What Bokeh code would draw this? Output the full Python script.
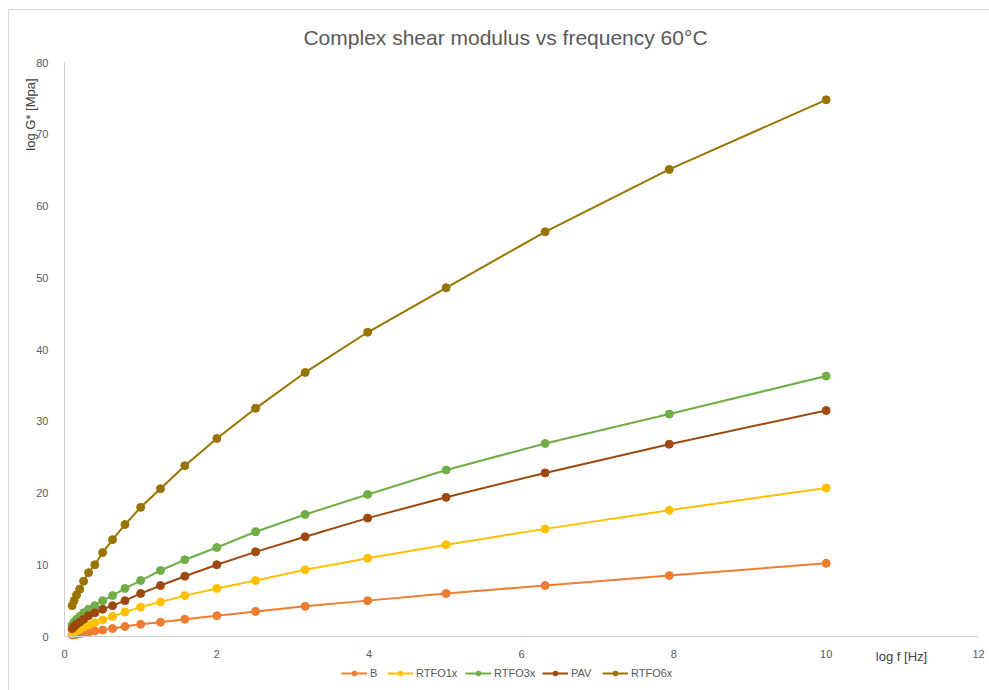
import math
from bokeh.plotting import figure
from bokeh.models import Range1d, Label, Legend, FixedTicker
from bokeh.embed import file_html
from bokeh.resources import INLINE

freq = [0.1, 0.126, 0.158, 0.2, 0.251, 0.316, 0.398, 0.501, 0.631, 0.794,
        1.0, 1.26, 1.58, 2.0, 2.51, 3.16, 3.98, 5.01, 6.31, 7.94, 10.0]

B = [0.2, 0.25, 0.3, 0.4, 0.5, 0.6, 0.75, 0.9, 1.1, 1.4,
     1.7, 2.0, 2.4, 2.9, 3.5, 4.2, 5.0, 6.0, 7.1, 8.5, 10.2]
RTFO1x = [0.4, 0.6, 0.8, 1.0, 1.3, 1.6, 1.9, 2.3, 2.8, 3.4,
          4.1, 4.8, 5.7, 6.7, 7.8, 9.3, 10.9, 12.8, 15.0, 17.6, 20.7]
RTFO3x = [1.6, 2.0, 2.4, 2.8, 3.3, 3.8, 4.3, 5.0, 5.7, 6.7,
          7.8, 9.2, 10.7, 12.4, 14.6, 17.0, 19.8, 23.2, 26.9, 31.0, 36.3]
PAV = [1.1, 1.4, 1.7, 2.0, 2.4, 2.9, 3.3, 3.8, 4.3, 5.0,
       6.0, 7.1, 8.4, 10.0, 11.8, 13.9, 16.5, 19.4, 22.8, 26.8, 31.5]
RTFO6x = [4.3, 5.0, 5.8, 6.6, 7.7, 8.9, 10.0, 11.7, 13.5, 15.6,
          18.0, 20.6, 23.8, 27.6, 31.8, 36.8, 42.4, 48.6, 56.4, 65.1, 74.8]

series_names = ["B", "RTFO1x", "RTFO3x", "PAV", "RTFO6x"]
series_values = [B, RTFO1x, RTFO3x, PAV, RTFO6x]
colors = ["#ED7D31", "#FFC000", "#70AD47", "#9E480E", "#997300"]

x_ticks = [0, 2, 4, 6, 8, 10, 12]
y_ticks = [0, 10, 20, 30, 40, 50, 60, 70, 80]

title_text = "Complex shear modulus vs frequency 60°C"
x_label = "log f [Hz]"
y_label = "log G* [Mpa]"

FONT = "Liberation Sans"

# pixel geometry of the plotting area inside the 989x690 canvas
W, H = 989, 690
X0PX, X12PX = 64, 978      # x = 0 and x = 12
Y0PX, Y80PX = 636, 62      # y = 0 and y = 80 (from top)
sx = (X12PX - X0PX) / 12.0
sy = (Y0PX - Y80PX) / 80.0

# left edge (px) of each legend entry
legend_x = [341, 387, 465, 542, 602]

p = figure(width=W, height=H, output_backend="svg", toolbar_location=None,
           x_range=Range1d(-X0PX / sx, (W - X0PX) / sx),
           y_range=Range1d(-(H - Y0PX) / sy, Y0PX / sy),
           min_border=0)
p.border_fill_color = None
p.background_fill_color = None
p.styles = {
    "background": ("linear-gradient(#d9d9d9,#d9d9d9) 8px 9px / 1px 100% no-repeat, "
                   "linear-gradient(#d9d9d9,#d9d9d9) 8px 9px / 100% 1px no-repeat, white"),
}

p.xgrid.visible = False
p.ygrid.visible = False
p.outline_line_color = None

for ax, ticks, bnds in ((p.xaxis[0], x_ticks, (0, 12)), (p.yaxis[0], y_ticks, (0, 80))):
    ax.ticker = FixedTicker(ticks=ticks)
    ax.fixed_location = 0
    ax.bounds = bnds
    ax.axis_line_color = "#d0d0d0"
    ax.major_tick_line_color = None
    ax.minor_tick_line_color = None
    ax.major_label_text_font = FONT
    ax.major_label_text_font_size = "11px"
    ax.major_label_text_color = "#595959"
p.xaxis.major_label_standoff = 7
p.yaxis.major_label_standoff = 10

for name, vals, c, lx in zip(series_names, series_values, colors, legend_x):
    r1 = p.line(freq, vals, line_color=c, line_width=2)
    r2 = p.scatter(freq, vals, marker="circle", size=8, fill_color=c, line_color=c)
    leg = Legend(items=[(name, [r1, r2])], orientation="horizontal", location=(lx, 11),
                 border_line_color=None, background_fill_alpha=0,
                 label_text_font=FONT, label_text_font_size="11px",
                 label_text_color="#595959", glyph_width=26, glyph_height=12,
                 spacing=0, padding=2, margin=0, label_standoff=3)
    p.add_layout(leg, "center")

p.add_layout(Label(x=(505 - X0PX) / sx, y=(Y0PX - 37) / sy, text=title_text,
                   text_align="center", text_baseline="middle", text_font=FONT,
                   text_font_size="21px", text_color="#595959"))
p.add_layout(Label(x=(901 - X0PX) / sx, y=(Y0PX - 656) / sy, text=x_label,
                   text_align="center", text_baseline="middle", text_font=FONT,
                   text_font_size="13px", text_color="#404040"))
p.add_layout(Label(x=(30 - X0PX) / sx, y=(Y0PX - 114) / sy, text=y_label,
                   angle=math.pi / 2, text_align="center", text_baseline="middle",
                   text_font=FONT, text_font_size="13px", text_color="#404040"))

open("out.html", "w").write(file_html(p, INLINE))
